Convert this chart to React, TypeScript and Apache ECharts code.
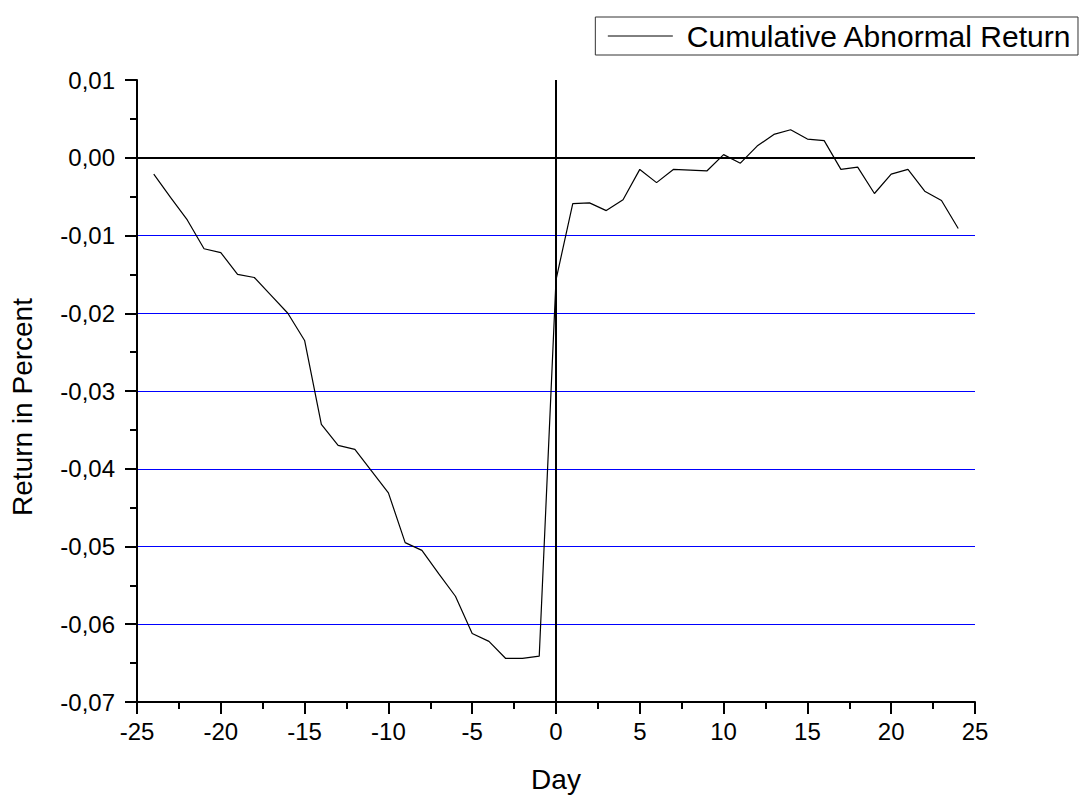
import React, { useEffect, useRef } from "react";
import * as echarts from "echarts";

const days: number[] = [
  -24, -23, -22, -21, -20, -19, -18, -17, -16, -15, -14, -13, -12, -11, -10, -9, -8, -7, -6, -5, -4, -3, -2, -1,
  0, 1, 2, 3, 4, 5, 6, 7, 8, 9, 10, 11, 12, 13, 14, 15, 16, 17, 18, 19, 20, 21, 22, 23, 24,
];
const car: number[] = [
  -0.0021, -0.0051, -0.008, -0.0117, -0.0122, -0.015, -0.0154, -0.0177, -0.02, -0.0235, -0.0343, -0.037, -0.0375,
  -0.0403, -0.0431, -0.0495, -0.0505, -0.0535, -0.0564, -0.0612, -0.0622, -0.0644, -0.0644, -0.0641,
  -0.0157, -0.0059, -0.0058, -0.0068, -0.0054, -0.0015, -0.0032, -0.0015, -0.0016, -0.0017, 0.0004, -0.0007,
  0.0015, 0.003, 0.0036, 0.0024, 0.0022, -0.0015, -0.0012, -0.0046, -0.0021, -0.0015, -0.0043, -0.0055, -0.0091,
];
// colour of each horizontal grid line, from -0.07 (bottom) to 0.01 (top)
const gridLineColors: string[] = [
  "transparent", // -0.07 (axis)
  "#0000ff", // -0.06
  "#0000ff", // -0.05
  "#0000ff", // -0.04
  "#0000ff", // -0.03
  "#0000ff", // -0.02
  "#0000ff", // -0.01
  "#000000", // 0.00
  "transparent", // 0.01
];
const zeroLevelY = 0;
const zeroLevelX = 0;
const seriesName = "Cumulative Abnormal Return";
const xTitle = "Day";
const yTitle = "Return in Percent";

const FONT = "Arial, 'Liberation Sans', sans-serif";

export default function App() {
  const ref = useRef<HTMLDivElement>(null);
  useEffect(() => {
    if (!ref.current) return;
    const chart = echarts.init(ref.current, undefined, { renderer: "svg" });
    chart.setOption({
      animation: false,
      backgroundColor: "#ffffff",
      textStyle: { fontFamily: FONT },
      grid: { left: 137, right: 106, top: 80, bottom: 98, containLabel: false },
      legend: {
        right: 3,
        top: 17,
        orient: "horizontal",
        data: [seriesName],
        itemWidth: 65,
        itemHeight: 14,
        itemStyle: { color: "transparent", borderWidth: 0, opacity: 0 },
        lineStyle: { color: "#000000", width: 1 },
        borderColor: "#333333",
        borderWidth: 1,
        padding: [3, 6, 3, 12],
        textStyle: { fontFamily: FONT, fontSize: 30, color: "#000000", padding: [0, 0, 0, 9], lineHeight: 32 },
      },
      graphic: [
        {
          type: "text",
          x: 22,
          y: 407,
          rotation: Math.PI / 2,
          style: {
            text: yTitle,
            fontFamily: FONT,
            fontSize: 28,
            fill: "#000000",
            align: "center",
            verticalAlign: "middle",
          },
        },
      ],
      xAxis: {
        type: "value",
        min: -25,
        max: 25,
        interval: 5,
        name: xTitle,
        nameLocation: "middle",
        nameGap: 63,
        nameTextStyle: { fontFamily: FONT, fontSize: 28, color: "#000000" },
        axisLine: { show: true, onZero: false, lineStyle: { color: "#000000", width: 2 } },
        axisTick: { show: true, length: 12, lineStyle: { color: "#000000", width: 2 } },
        minorTick: { show: true, splitNumber: 2, length: 7, lineStyle: { color: "#000000", width: 2 } },
        axisLabel: { fontFamily: FONT, fontSize: 24, color: "#000000", margin: 17 },
        splitLine: { show: false },
        minorSplitLine: { show: false },
      },
      yAxis: {
        type: "value",
        min: -0.07,
        max: 0.01,
        interval: 0.01,
        axisLine: { show: true, onZero: false, lineStyle: { color: "#000000", width: 2 } },
        axisTick: { show: true, length: 12, lineStyle: { color: "#000000", width: 2 } },
        minorTick: { show: true, splitNumber: 2, length: 7, lineStyle: { color: "#000000", width: 2 } },
        axisLabel: {
          fontFamily: FONT,
          fontSize: 24,
          color: "#000000",
          margin: 22,
          formatter: (v: number) => {
            const n = Math.abs(v) < 1e-9 ? 0 : v;
            return n.toFixed(2).replace(".", ",");
          },
        },
        splitLine: { show: true, lineStyle: { color: gridLineColors, width: 1, type: "solid" } },
        minorSplitLine: { show: false },
      },
      series: [
        {
          name: "zeroRef",
          type: "line",
          data: [],
          silent: true,
          markLine: {
            silent: true,
            symbol: ["none", "none"],
            label: { show: false },
            lineStyle: { color: "#000000", width: 2, type: "solid" },
            emphasis: { disabled: true },
            data: [{ yAxis: zeroLevelY }, { xAxis: zeroLevelX }],
          },
          z: 2,
        },
        {
          name: seriesName,
          type: "line",
          data: days.map((d, i) => [d, car[i]]),
          symbol: "none",
          showSymbol: false,
          lineStyle: { color: "#000000", width: 1.2 },
          itemStyle: { color: "#000000" },
          z: 3,
        },
      ],
    });
    return () => chart.dispose();
  }, []);
  return <div ref={ref} style={{ position: "absolute", left: 0, top: 0, width: 1081, height: 800 }} />;
}
